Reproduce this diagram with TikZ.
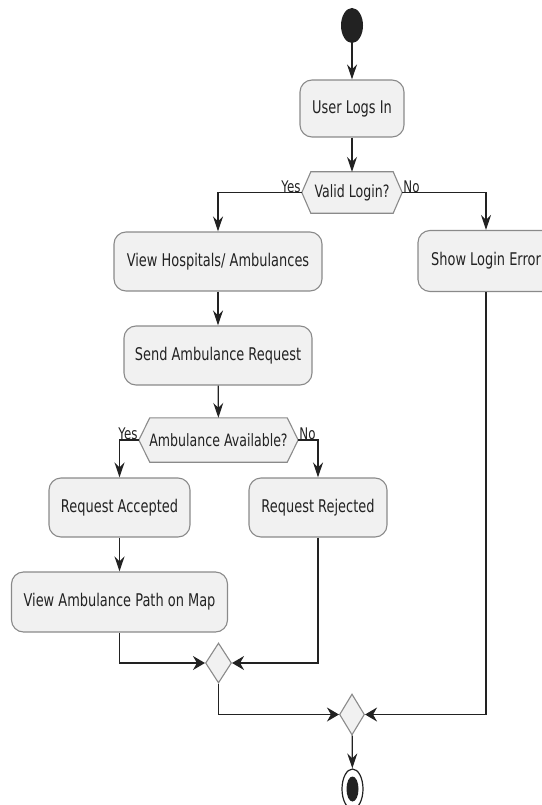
\documentclass[tikz,border=0pt]{standalone}
\usepackage{fontspec}
\setmainfont[FakeStretch=0.74]{DejaVu Sans}
\usetikzlibrary{arrows.meta,shapes.geometric,calc}
\pgfdeclarelayer{background}
\pgfsetlayers{background,main}
\definecolor{boxfill}{HTML}{F1F1F1}
\definecolor{boxline}{HTML}{8A8A8A}
\definecolor{ink}{HTML}{222222}
\begin{document}
\begin{tikzpicture}[x=1pt,y=-1pt,
  act/.style={draw=boxline,fill=boxfill,line width=1.1pt,rounded corners=12pt,
    minimum height=59pt,inner sep=0pt,text=ink,
    font=\fontsize{17.5}{20}\selectfont},
  hexnode/.style={inner sep=0pt,text=ink,font=\fontsize{17}{20}\selectfont},
  hexline/.style={draw=boxline,fill=boxfill,line width=1.1pt},
  merge/.style={diamond,draw=boxline,fill=boxfill,line width=1.1pt,inner sep=0pt,
    minimum width=26pt,minimum height=40pt},
  lbl/.style={inner sep=1pt,text=ink,font=\fontsize{16}{18}\selectfont},
  conn/.style={draw=ink,line width=1.2pt},
  varr/.style={conn,-{Stealth[length=15pt,width=10pt,inset=5pt]}},
  harr/.style={conn,-{Stealth[length=12pt,width=14pt,inset=4pt]}}]
\useasboundingbox (0,0) rectangle (541,805);
% start
\node (start) [ellipse,fill=ink,minimum width=22pt,minimum height=35pt,inner sep=0pt] at (352,25.5) {};
% activities
\node (login) [act,minimum width=104pt,minimum height=57pt] at (352,108.5) {User Logs In};
\node (valid) [hexnode,minimum width=100pt,minimum height=41pt] at (352,192.5) {Valid Login?};
\node (view) [act,minimum width=208pt] at (218,261.5) {View Hospitals/ Ambulances};
\node (err) [act,minimum width=136pt,minimum height=61pt] at (486,261) {Show Login Error};
\node (send) [act,minimum width=188pt] at (218,355.5) {Send Ambulance Request};
\node (avail) [hexnode,minimum width=159pt,minimum height=44pt] at (218.5,440) {Ambulance Available?};
\node (acc) [act,minimum width=141pt] at (119.5,507.5) {Request Accepted};
\node (rej) [act,minimum width=138pt] at (318,507.5) {Request Rejected};
\node (path) [act,minimum width=216pt,minimum height=60pt] at (119.5,602) {View Ambulance Path on Map};
\node (m1) [merge] at (218.5,663) {};
\node (m2) [merge,minimum width=25pt,minimum height=41pt] at (352,714.5) {};
\node (stop) [ellipse,draw=ink,line width=1.2pt,fill=white,minimum width=21pt,minimum height=40pt,inner sep=0pt] at (352.5,789) {};
\node (stopin) [ellipse,fill=ink,minimum width=12pt,minimum height=25pt,inner sep=0pt] at (stop.center) {};
% hexagons
\begin{pgfonlayer}{background}
\draw[hexline] (valid.west) -- ([xshift=9pt]valid.north west) -- ([xshift=-9pt]valid.north east)
  -- (valid.east) -- ([xshift=-9pt]valid.south east) -- ([xshift=9pt]valid.south west) -- cycle;
\draw[hexline] (avail.west) -- ([xshift=11pt]avail.north west) -- ([xshift=-11pt]avail.north east)
  -- (avail.east) -- ([xshift=-11pt]avail.south east) -- ([xshift=11pt]avail.south west) -- cycle;
\end{pgfonlayer}
% connectors
\draw[varr] (start) -- (login);
\draw[varr] (login) -- (valid);
\draw[varr] (valid.west) -| (view.north);
\draw[varr] (valid.east) -| (err.north);
\node[lbl,anchor=south east] (yes1) at ([yshift=-1pt]valid.west) {Yes};
\node[lbl,anchor=south west] (no1) at ([yshift=-1pt]valid.east) {No};
\draw[varr] (view) -- (send);
\draw[varr] (send) -- (avail);
\draw[varr] (avail.west) -| (acc.north);
\draw[varr] (avail.east) -| (rej.north);
\node[lbl,anchor=south east] (yes2) at ([yshift=-1pt]avail.west) {Yes};
\node[lbl,anchor=south west] (no2) at ([yshift=-1pt]avail.east) {No};
\draw[varr] (acc) -- (path);
\draw[harr] (path.south) |- (m1.west);
\draw[harr] (rej.south) |- (m1.east);
\draw[harr] (m1.south) |- (m2.west);
\draw[harr] (err.south) |- (m2.east);
\draw[varr] (m2) -- (stop);
\end{tikzpicture}
\end{document}
